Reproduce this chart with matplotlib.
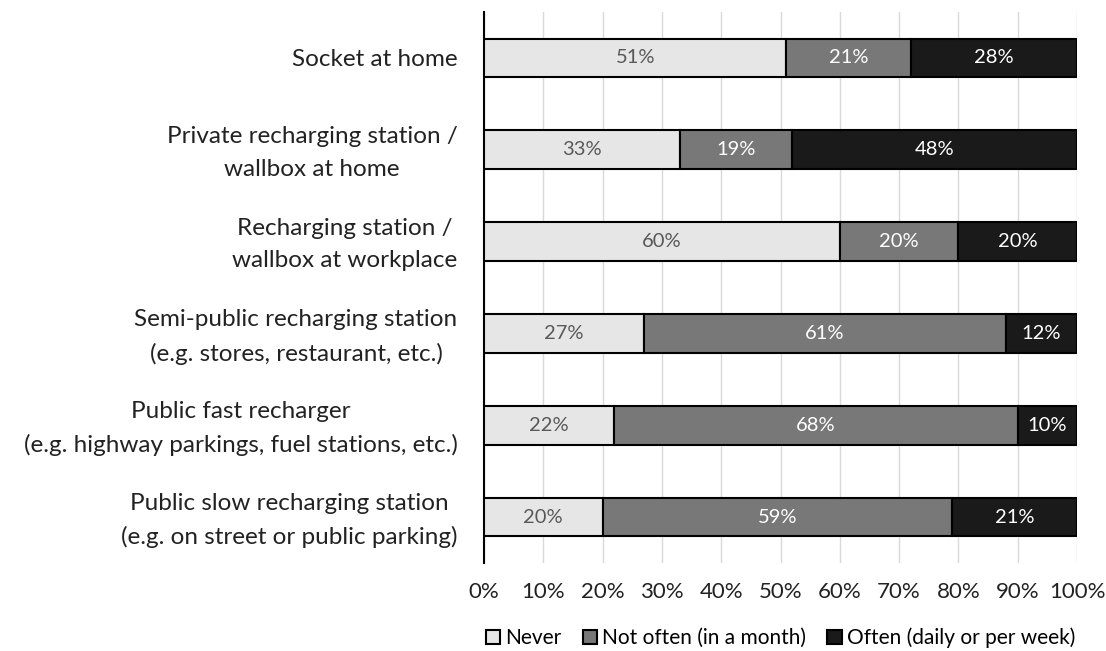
import numpy as np
import matplotlib.pyplot as plt
import matplotlib.transforms as mtransforms

plt.rcParams['font.family'] = ['Lato', 'DejaVu Sans']

categories = [
    "Socket at home",
    "Private recharging station /\nwallbox at home",
    "Recharging station /\nwallbox at workplace",
    "Semi-public recharging station\n(e.g. stores, restaurant, etc.)",
    "Public fast recharger\n(e.g. highway parkings, fuel stations, etc.)",
    "Public slow recharging station\n(e.g. on street or public parking)",
]
never = [51, 33, 60, 27, 22, 20]
not_often = [21, 19, 20, 61, 68, 59]
often = [28, 48, 20, 12, 10, 21]
series_names = ["Never", "Not often (in a month)", "Often (daily or per week)"]
colors = ["#e6e6e6", "#787878", "#1a1a1a"]
text_colors = ["#595959", "white", "white"]

fig = plt.figure(figsize=(11.06, 6.51), dpi=100)
ax = fig.add_axes([484 / 1106, 1 - 563 / 651, (1077 - 484) / 1106, (563 - 12) / 651])

y = np.arange(len(categories))
left = np.zeros(len(categories))
for vals, name, c, tc in zip([never, not_often, often], series_names, colors, text_colors):
    vals = np.array(vals)
    bars = ax.barh(y, vals, left=left, height=0.42, color=c, edgecolor='black',
                   linewidth=1.5, label=name, zorder=3)
    for b, v in zip(bars, vals):
        ax.text(b.get_x() + b.get_width() / 2, b.get_y() + b.get_height() / 2,
                f"{v}%", ha='center', va='center', color=tc, fontsize=14.5, zorder=4)
    left += vals

ax.set_ylim(len(categories) - 0.5, -0.5)
ax.set_xlim(0, 100)
ax.set_yticks(y)
ax.set_yticklabels(categories, fontsize=17.5, ha='right', multialignment='center',
                   color='#222222', linespacing=1.7)
ax.tick_params(axis='y', length=0, pad=19)

# two-line labels sit a little high in the original
shift = mtransforms.ScaledTranslation(0, 5 / 100, fig.dpi_scale_trans)
for lab in ax.get_yticklabels():
    if "\n" in lab.get_text():
        lab.set_transform(lab.get_transform() + shift)

ax.set_xticks(np.arange(0, 101, 10))
ax.set_xticklabels([f"{t}%" for t in range(0, 101, 10)], fontsize=16, color='#222222')
ax.tick_params(axis='x', length=0, pad=14)
ax.grid(axis='x', color='#d9d9d9', linewidth=1, zorder=0)
for s in ['top', 'right', 'bottom']:
    ax.spines[s].set_visible(False)
ax.spines['left'].set_linewidth(1.5)

ax.legend(loc='center', bbox_to_anchor=(0.5, -0.136), ncol=3, frameon=False,
          fontsize=15, handlelength=0.7, handleheight=0.7, handletextpad=0.25,
          columnspacing=1.0, borderpad=0)

fig.savefig("out.png", dpi=100)
